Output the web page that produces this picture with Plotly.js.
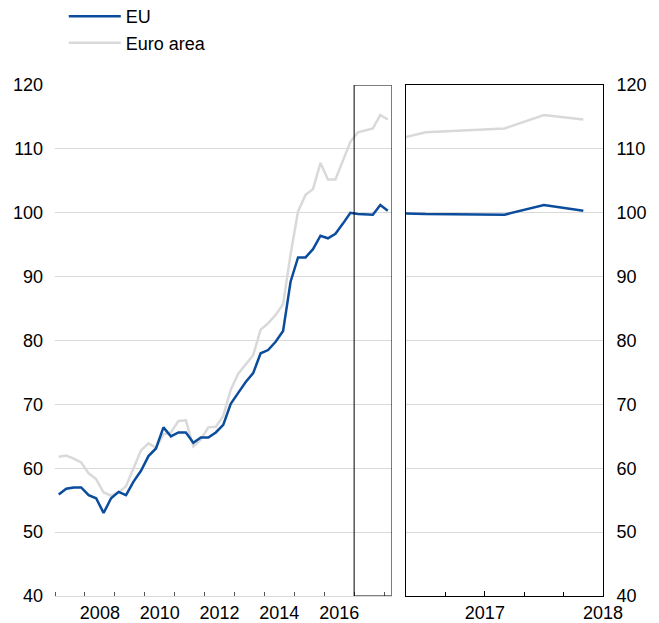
<!DOCTYPE html>
<html>
<head>
<meta charset="utf-8">
<script src="https://cdn.plot.ly/plotly-3.0.1.min.js"></script>
<style>html,body{margin:0;padding:0;background:#fff}#chart{width:659px;height:623px}</style>
</head>
<body>
<div id="chart"></div>
<script>
const quarters = [
  '2006Q3','2006Q4',
  '2007Q1','2007Q2','2007Q3','2007Q4',
  '2008Q1','2008Q2','2008Q3','2008Q4',
  '2009Q1','2009Q2','2009Q3','2009Q4',
  '2010Q1','2010Q2','2010Q3','2010Q4',
  '2011Q1','2011Q2','2011Q3','2011Q4',
  '2012Q1','2012Q2','2012Q3','2012Q4',
  '2013Q1','2013Q2','2013Q3','2013Q4',
  '2014Q1','2014Q2','2014Q3','2014Q4',
  '2015Q1','2015Q2','2015Q3','2015Q4',
  '2016Q1','2016Q2','2016Q3','2016Q4',
  '2017Q1','2017Q2','2017Q3'
];
const euValues = [
  55.9, 56.8,
  57.0, 57.0, 55.8, 55.3,
  53.0, 55.3, 56.3, 55.8,
  57.9, 59.6, 61.9, 63.1,
  66.4, 65.0, 65.6, 65.6,
  64.0, 64.8, 64.8, 65.6,
  66.8, 70.1, 71.8, 73.5,
  74.9, 78.0, 78.5, 79.8,
  81.5, 89.2, 93.0, 93.0,
  94.3, 96.4, 96.0, 96.7,
  98.3, 100.0, 99.8, 99.7,
  99.7, 101.2, 100.3
];
const euroAreaValues = [
  61.8, 62.0,
  61.5, 60.9, 59.2, 58.3,
  56.2, 55.7, 56.2, 57.2,
  60.0, 62.8, 63.9, 63.2,
  65.3, 65.6, 67.4, 67.5,
  63.4, 64.5, 66.4, 66.5,
  68.2, 72.3, 74.8, 76.3,
  77.7, 81.7, 82.7, 84.0,
  85.7, 93.5, 100.2, 102.8,
  103.7, 107.8, 105.2, 105.2,
  108.2, 111.1, 112.6, 112.9,
  113.2, 115.3, 114.6
];
const seriesNames = ['EU', 'Euro area'];
const yTicks = [40, 50, 60, 70, 80, 90, 100, 110, 120];
const leftXTicks = [2008, 2010, 2012, 2014, 2016];
const rightXTickVals = [2017, 2017.75];
const rightXTickText = ['2017', '2018'];

// quarter label -> decimal year at mid-quarter
const xs = quarters.map(q => {
  const y = parseInt(q.slice(0, 4), 10);
  const n = parseInt(q.slice(5), 10);
  return y + (n - 0.5) / 4;
});

const BLUE = '#0b4c9c';
const GREY = '#d9d9d9';
const FONT = 'Arial, "Liberation Sans", sans-serif';
const FS = 18;

const traces = [
  {x: xs, y: euroAreaValues, name: seriesNames[1], type: 'scatter', mode: 'lines',
   line: {color: GREY, width: 2.5}, xaxis: 'x', yaxis: 'y', legendrank: 2},
  {x: xs, y: euValues, name: seriesNames[0], type: 'scatter', mode: 'lines',
   line: {color: BLUE, width: 2.5}, xaxis: 'x', yaxis: 'y', legendrank: 1},
  {x: xs, y: euroAreaValues, name: seriesNames[1], type: 'scatter', mode: 'lines',
   line: {color: GREY, width: 2.5}, xaxis: 'x2', yaxis: 'y2', showlegend: false},
  {x: xs, y: euValues, name: seriesNames[0], type: 'scatter', mode: 'lines',
   line: {color: BLUE, width: 2.5}, xaxis: 'x2', yaxis: 'y2', showlegend: false}
];

const layout = {
  width: 659, height: 623,
  margin: {l: 55, r: 56, t: 85, b: 27, autoexpand: false},
  paper_bgcolor: '#fff', plot_bgcolor: 'rgba(0,0,0,0)',
  font: {family: FONT, size: FS, color: '#000'},
  showlegend: true,
  legend: {x: 0.016, xanchor: 'left', y: 1.170, yanchor: 'top', orientation: 'v',
           font: {family: FONT, size: FS}, itemwidth: 52,
           bgcolor: 'rgba(0,0,0,0)'},
  xaxis: {
    domain: [0, 0.6141], range: [2006.5, 2017.75], anchor: 'y',
    tickvals: leftXTicks, ticks: '', showgrid: false, zeroline: false,
    showline: true, linecolor: GREY, linewidth: 1,
    minor: {ticks: 'inside', tick0: 2006.5, dtick: 1, ticklen: 4, tickcolor: '#555', tickwidth: 1, showgrid: false},
    tickfont: {family: FONT, size: FS}, ticklabelstandoff: 0
  },
  yaxis: {
    domain: [0, 1], range: [40, 120], anchor: 'x',
    tickvals: yTicks, ticks: '', showgrid: true, gridcolor: GREY, gridwidth: 1,
    zeroline: false, showline: false, tickfont: {family: FONT, size: FS}, ticklabelstandoff: 11
  },
  xaxis2: {
    domain: [0.6407, 1], range: [2016.5, 2017.75], anchor: 'y2',
    tickvals: rightXTickVals, ticktext: rightXTickText, ticks: 'inside', ticklen: 5, tickcolor: '#000',
    showgrid: false, zeroline: false, showline: true, mirror: true, linecolor: '#000', linewidth: 1,
    minor: {ticks: 'inside', tick0: 2016.5, dtick: 0.25, ticklen: 4, tickcolor: '#000', tickwidth: 1, showgrid: false},
    tickfont: {family: FONT, size: FS}, ticklabelstandoff: 0
  },
  yaxis2: {
    domain: [0, 1], range: [40, 120], anchor: 'x2', side: 'right',
    tickvals: yTicks, ticks: '', showgrid: true, gridcolor: GREY, gridwidth: 1,
    zeroline: false, showline: true, mirror: true, linecolor: '#000', linewidth: 1,
    tickfont: {family: FONT, size: FS}, ticklabelstandoff: 9
  },
  shapes: [
    {type: 'rect', xref: 'x', yref: 'y', x0: 2016.5, x1: 2017.75, y0: 40, y1: 120,
     line: {color: '#000', width: 1}, fillcolor: 'rgba(0,0,0,0)', layer: 'above'}
  ]
};

Plotly.newPlot('chart', traces, layout, {displayModeBar: false, staticPlot: true});
</script>
</body>
</html>
